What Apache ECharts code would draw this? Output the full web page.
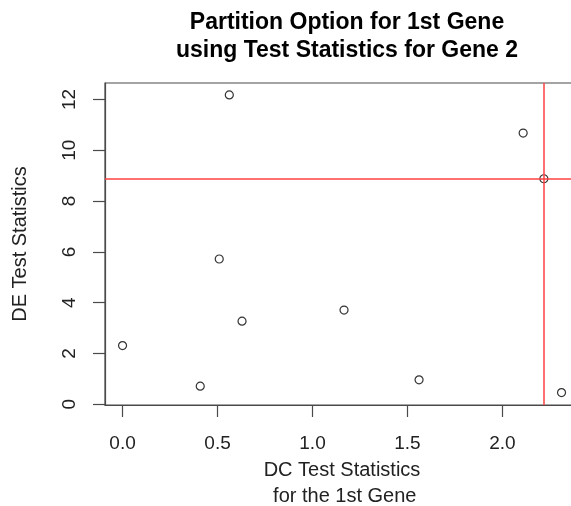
<!DOCTYPE html>
<html>
<head>
<meta charset="utf-8">
<script src="https://cdn.jsdelivr.net/npm/echarts@6/dist/echarts.min.js"></script>
<style>
html,body{margin:0;padding:0;background:#fff;}
#chart{width:571px;height:506px;}
</style>
</head>
<body>
<div id="chart"></div>
<script>
// Data
const dcStats = [0.00, 0.409, 0.509, 0.562, 0.629, 1.166, 1.561, 2.109, 2.218, 2.311];
const deStats = [2.31, 0.71, 5.72, 12.18, 3.27, 3.71, 0.96, 10.68, 8.88, 0.46];
const cutX = 2.218;
const cutY = 8.88;
const xTicks = [0, 0.5, 1, 1.5, 2];
const yTicks = [0, 2, 4, 6, 8, 10, 12];
const titleLines = ['Partition Option for 1st Gene', 'using Test Statistics for Gene 2'];
const xTitle = ['DC Test Statistics', ' for the 1st Gene'];
const yTitle = 'DE Test Statistics';

const points = dcStats.map((x, i) => [x, deStats[i]]);
const font = 'Liberation Sans, Arial, sans-serif';
const axisGrey = '#4a4a4a';

const chart = echarts.init(document.getElementById('chart'), null, {renderer: 'canvas'});
chart.setOption({
  animation: false,
  backgroundColor: '#fff',
  title: {
    text: titleLines.join('\n'),
    left: 342,
    top: 4,
    textAlign: 'center',
    textStyle: {fontFamily: font, fontSize: 23, fontWeight: 'bold', color: '#000', lineHeight: 28}
  },
  grid: {left: 105, top: 83, bottom: 101, right: -8, containLabel: false, outerBoundsMode: 'none',
    show: true, borderColor: axisGrey, borderWidth: 1.2, backgroundColor: 'transparent'},
  xAxis: {
    type: 'value', min: -0.0924, max: 2.403,
    name: xTitle.join('\n'), nameLocation: 'middle', nameGap: 49,
    nameTextStyle: {fontFamily: font, fontSize: 20, color: '#222', lineHeight: 26},
    axisLine: {show: true, onZero: false, lineStyle: {color: axisGrey, width: 1.2}},
    axisTick: {show: true, inside: false, length: 12, customValues: xTicks, lineStyle: {color: axisGrey, width: 1.2}},
    axisLabel: {customValues: xTicks, margin: 29, fontFamily: font, fontSize: 19, color: '#222',
      formatter: v => v.toFixed(1)},
    splitLine: {show: false}
  },
  yAxis: {
    type: 'value', min: -0.03, max: 12.65,
    name: yTitle, nameLocation: 'middle', nameGap: 75, nameRotate: 90,
    nameTextStyle: {fontFamily: font, fontSize: 20, color: '#222'},
    axisLine: {show: true, onZero: false, lineStyle: {color: axisGrey, width: 1.2}},
    axisTick: {show: true, inside: false, length: 12, customValues: yTicks, lineStyle: {color: axisGrey, width: 1.2}},
    axisLabel: {customValues: yTicks, rotate: 90, margin: 26, fontFamily: font, fontSize: 19, color: '#222'},
    splitLine: {show: false}
  },
  series: [{
    type: 'scatter',
    data: points,
    symbol: 'circle',
    symbolSize: 8,
    itemStyle: {color: 'rgba(0,0,0,0)', borderColor: '#000', borderWidth: 1.2},
    markLine: {
      silent: true,
      symbol: 'none',
      label: {show: false},
      lineStyle: {color: '#ff4040', width: 1.5, type: 'solid'},
      data: [{xAxis: cutX}, {yAxis: cutY}]
    }
  }]
});
</script>
</body>
</html>
